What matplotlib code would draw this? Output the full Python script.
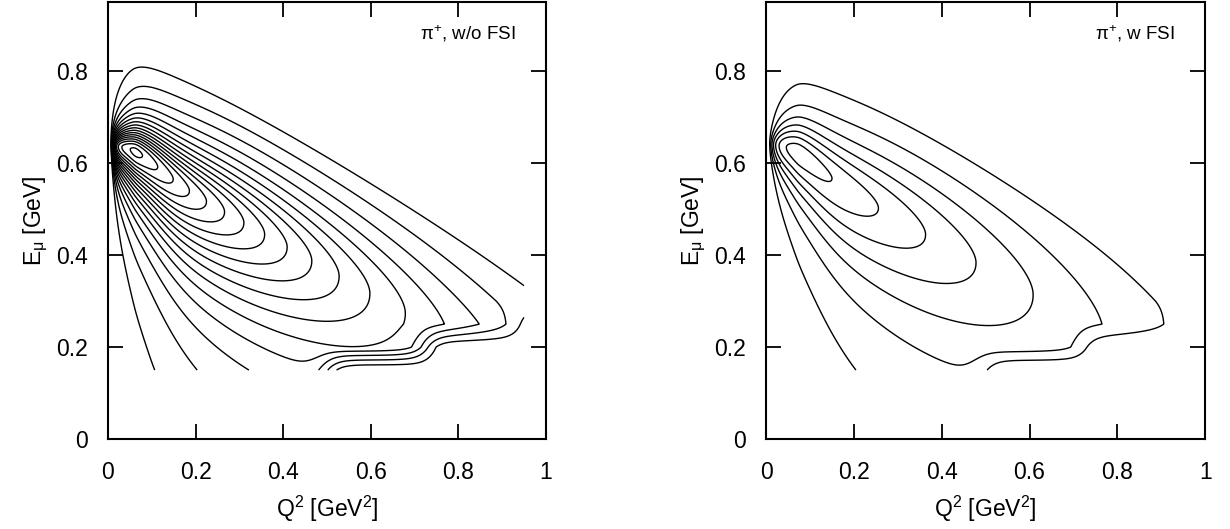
import numpy as np
import matplotlib
matplotlib.use("Agg")
import matplotlib.pyplot as plt

plt.rcParams["font.family"] = ["Liberation Sans", "DejaVu Sans"]
plt.rcParams["mathtext.fontset"] = "custom"
plt.rcParams["mathtext.rm"] = "Liberation Sans"
plt.rcParams["mathtext.it"] = "Liberation Sans"
plt.rcParams["mathtext.default"] = "regular"

# masses and beam energy (GeV)
M_N = 0.938
M_MU = 0.1057
E_NU = 1.0

# tabulation of the muon energy (GeV) and Q^2 (GeV^2)
emu_nodes_step = 0.05
q2_range = (0.0, 0.95)
emu_range = (0.15, 0.90)

# panel settings: left without, right with final-state interactions
panel_labels = [r"$\pi^{+}$, w/o FSI", r"$\pi^{+}$, w FSI"]
peak_height = [17.3, 7.6]          # cross section at the maximum (contour units)
w_peak = [1.25, 1.248]             # invariant mass of the Delta ridge
ridge_flat_q2 = [0.1, 0.1]         # ridge stays at fixed muon energy below this Q^2
w_threshold = [1.05, 1.05]         # smeared pion-production threshold
threshold_width = [0.03, 0.03]
width_coeff = [0.238, 0.245]       # Fermi-motion width above the peak: coeff * Q
width_low_ratio = [0.7, 0.75]      # relative width below the peak
ridge_q2 = [0.063, 0.075]          # Q^2 of the maximum
ridge_rise = [2.6, 2.2]            # fall-off of the ridge towards Q^2 = 0
ridge_lin = [1.8, 1.2]             # fall-off of the ridge towards large Q^2
ridge_quad = [0.4, 1.1]
edge_low = [0.006, 0.012]          # smearing of the Q^2_min boundary
edge_high = [0.018, 0.018]         # smearing of the Q^2_max boundary
n_levels = [17, 7]

x_ticks = [0, 0.2, 0.4, 0.6, 0.8, 1.0]
x_ticklabels = ["0", "0.2", "0.4", "0.6", "0.8", "1"]
y_ticks = [0, 0.2, 0.4, 0.6, 0.8]
y_ticklabels = ["0", "0.2", "0.4", "0.6", "0.8"]


def q2_limits(emu):
    pmu = np.sqrt(np.clip(emu**2 - M_MU**2, 0, None))
    q2min = 2 * E_NU * (emu - pmu) - M_MU**2
    q2max = 2 * E_NU * (emu + pmu) - M_MU**2
    return q2min, q2max


def upper_cut(q2, emu, width):
    # Q^2_max applied on the tabulated muon-energy nodes, linear in between
    e0 = emu_range[0] + np.floor((emu - emu_range[0]) / emu_nodes_step) * emu_nodes_step
    e1 = e0 + emu_nodes_step
    t = (emu - e0) / emu_nodes_step
    _, m0 = q2_limits(e0)
    _, m1 = q2_limits(e1)
    s0 = 1 / (1 + np.exp((q2 - m0) / width))
    s1 = 1 / (1 + np.exp((q2 - m1) / width))
    return (1 - t) * s0 + t * s1


def ridge(q2, i):
    d = q2 - ridge_q2[i]
    ds = np.sqrt(d**2 + 0.008**2) - 0.008
    up = np.exp(-ridge_lin[i] * ds - ridge_quad[i] * ds**2)
    down = np.exp(-ridge_rise[i] * ds)
    return np.where(d > 0, up, down)


def cross_section(q2, emu, i):
    w2 = M_N**2 + 2 * M_N * (E_NU - emu) - q2
    w = np.sqrt(np.clip(w2, 0, None))
    wp2 = w_peak[i] ** 2 - q2 * np.exp(-(q2 / ridge_flat_q2[i]) ** 2)
    dw = w - np.sqrt(wp2)
    gamma = width_coeff[i] * np.sqrt(q2) + 1e-9
    gamma = np.where(dw < 0, gamma * width_low_ratio[i], gamma)
    lorentz = gamma**2 / (dw**2 + gamma**2)
    thr = 1 / (1 + np.exp(-(w - w_threshold[i]) / threshold_width[i]))
    q2min, _ = q2_limits(emu)
    lo = np.clip(1 - np.exp(-(q2 - q2min) / edge_low[i]), 0, 1)
    return lorentz * thr * ridge(q2, i) * lo * upper_cut(q2, emu, edge_high[i])


q2 = q2_range[1] * np.linspace(0, 1, 700) ** 2
emu = np.linspace(*emu_range, 900)
Q2, EMU = np.meshgrid(q2, emu)

fig = plt.figure(figsize=(12.3, 5.29), dpi=100)
axes_pos = [[0.0878, 0.170, 0.356, 0.826], [0.6228, 0.170, 0.357, 0.826]]

for i, pos in enumerate(axes_pos):
    ax = fig.add_axes(pos)
    z = cross_section(Q2, EMU, i)
    z = z / z.max() * peak_height[i]
    levels = np.arange(1, n_levels[i] + 1)
    ax.contour(Q2, EMU, z, levels=levels, colors="black", linewidths=1.0)
    ax.set_xlim(0, 1)
    ax.set_ylim(0, 0.95)
    ax.set_xticks(x_ticks)
    ax.set_xticklabels(x_ticklabels)
    ax.set_yticks(y_ticks)
    ax.set_yticklabels(y_ticklabels)
    ax.tick_params(direction="in", length=11, width=1.3, top=True, right=True,
                   labelsize=16.5)
    ax.tick_params(axis="x", pad=16)
    ax.tick_params(axis="y", pad=14.5)
    for sp in ax.spines.values():
        sp.set_linewidth(1.5)
    ax.set_xlabel(r"Q$^2$ [GeV$^2$]", fontsize=16.5, labelpad=7)
    ax.set_ylabel(r"E$_{\mu}$ [GeV]", fontsize=16.5, labelpad=4)
    ax.text(0.93, 0.927, panel_labels[i], transform=ax.transAxes,
            ha="right", va="center", fontsize=13.5)

fig.savefig("out.png", dpi=100)
